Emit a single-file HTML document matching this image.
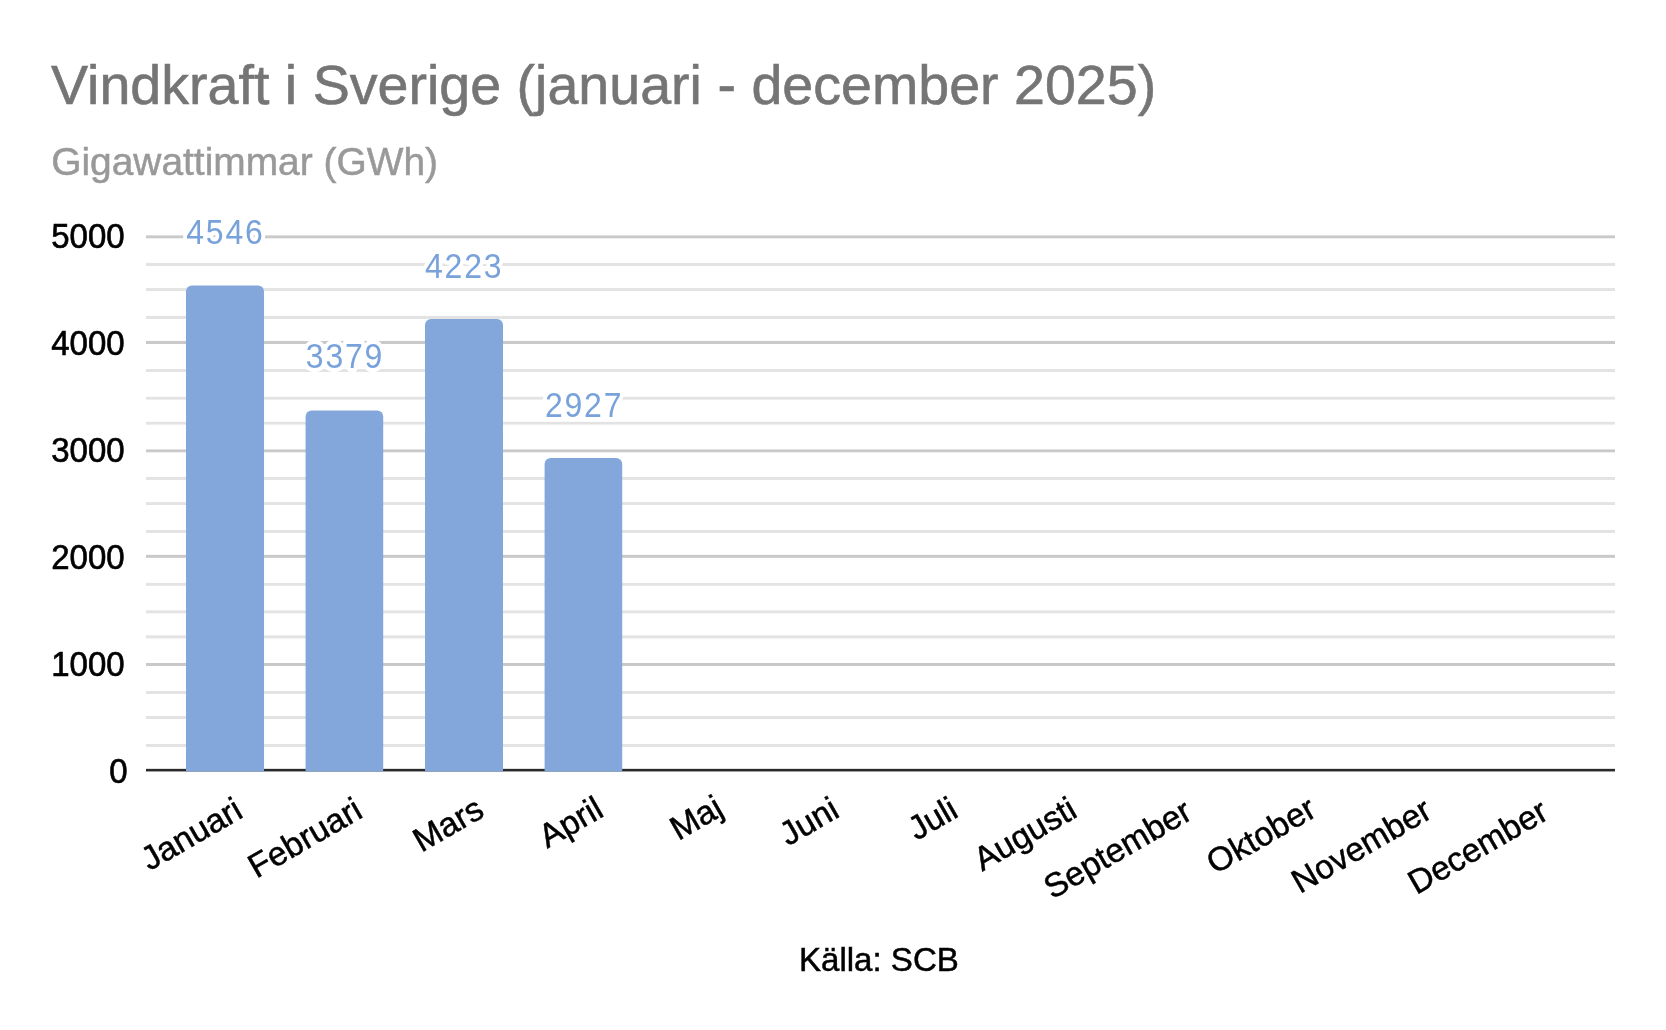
<!DOCTYPE html>
<html>
<head>
<meta charset="utf-8">
<title>Vindkraft i Sverige</title>
<style>
html,body{margin:0;padding:0;background:#fff;}
body{width:1666px;height:1030px;overflow:hidden;}
svg{display:block;font-family:"Liberation Sans",sans-serif;will-change:transform;}
text{font-family:"Liberation Sans",sans-serif;}
</style>
</head>
<body>
<svg width="1666" height="1030" viewBox="0 0 1666 1030">
<rect x="0" y="0" width="1666" height="1030" fill="#fff"/>
<text x="51" y="104" font-size="55.6" fill="#757575" stroke="#757575" stroke-width="0.6">Vindkraft i Sverige (januari - december 2025)</text>
<text x="51.2" y="175" font-size="38.9" fill="#999999" stroke="#999999" stroke-width="0.5">Gigawattimmar (GWh)</text>
<g fill="#e3e3e3">
<rect x="146" y="262.9" width="1469" height="3.10"/>
<rect x="146" y="288.1" width="1469" height="2.90"/>
<rect x="146" y="315.9" width="1469" height="3.10"/>
<rect x="146" y="369.1" width="1469" height="2.90"/>
<rect x="146" y="396.8" width="1469" height="2.80"/>
<rect x="146" y="421.8" width="1469" height="2.80"/>
<rect x="146" y="477.0" width="1469" height="2.90"/>
<rect x="146" y="502.1" width="1469" height="2.90"/>
<rect x="146" y="530.0" width="1469" height="2.90"/>
<rect x="146" y="582.9" width="1469" height="2.90"/>
<rect x="146" y="610.4" width="1469" height="2.90"/>
<rect x="146" y="635.4" width="1469" height="3.00"/>
<rect x="146" y="691.0" width="1469" height="2.90"/>
<rect x="146" y="716.0" width="1469" height="3.00"/>
<rect x="146" y="744.0" width="1469" height="2.90"/>
</g>
<g fill="#c9c9c9">
<rect x="146" y="235.4" width="1469" height="2.90"/>
<rect x="146" y="340.95" width="1469" height="3.05"/>
<rect x="146" y="449.45" width="1469" height="2.85"/>
<rect x="146" y="554.85" width="1469" height="3.00"/>
<rect x="146" y="663.0" width="1469" height="3.00"/>
</g>
<rect x="146" y="768.85" width="1469" height="2.6" fill="#2a2a2a"/>
<g fill="#84a7db">
<path d="M186 771.4V291.60a6 6 0 0 1 6 -6H258.00a6 6 0 0 1 6 6V771.4Z"/>
<path d="M305.6 771.4V416.50a6 6 0 0 1 6 -6H377.20a6 6 0 0 1 6 6V771.4Z"/>
<path d="M425 771.4V325.00a6 6 0 0 1 6 -6H497.00a6 6 0 0 1 6 6V771.4Z"/>
<path d="M544.6 771.4V464.00a6 6 0 0 1 6 -6H616.20a6 6 0 0 1 6 6V771.4Z"/>
</g>
<g font-size="32" text-anchor="middle" letter-spacing="1.8">
<g transform="translate(225.4,243.9) scale(1,1.11)"><text x="0" y="0" fill="#fff" stroke="#fff" stroke-width="7.5" stroke-linejoin="round">4546</text><text x="0" y="0" fill="#79a2db" stroke="none">4546</text></g>
<g transform="translate(345.0,368.4) scale(1,1.11)"><text x="0" y="0" fill="#fff" stroke="#fff" stroke-width="7.5" stroke-linejoin="round">3379</text><text x="0" y="0" fill="#79a2db" stroke="none">3379</text></g>
<g transform="translate(464.2,278.3) scale(1,1.11)"><text x="0" y="0" fill="#fff" stroke="#fff" stroke-width="7.5" stroke-linejoin="round">4223</text><text x="0" y="0" fill="#79a2db" stroke="none">4223</text></g>
<g transform="translate(584.1,416.8) scale(1,1.11)"><text x="0" y="0" fill="#fff" stroke="#fff" stroke-width="7.5" stroke-linejoin="round">2927</text><text x="0" y="0" fill="#79a2db" stroke="none">2927</text></g>
</g>
<g font-size="33" text-anchor="end" fill="#000" stroke="#000" stroke-width="0.6">
<text transform="translate(124.6,248.2) scale(1,1.07)">5000</text>
<text transform="translate(124.6,355.4) scale(1,1.07)">4000</text>
<text transform="translate(124.6,462.4) scale(1,1.07)">3000</text>
<text transform="translate(124.6,568.6) scale(1,1.07)">2000</text>
<text transform="translate(124.6,676.1) scale(1,1.07)">1000</text>
<text transform="translate(127.5,783.4) scale(1,1.07)">0</text>
</g>
<g font-size="33.5" text-anchor="end" fill="#000" stroke="#000" stroke-width="0.5">
<text transform="translate(244.7,816.4) rotate(-30)">Januari</text>
<text transform="translate(364.5,816.3) rotate(-30)">Februari</text>
<text transform="translate(485.9,815.5) rotate(-30)">Mars</text>
<text transform="translate(605.4,815.3) rotate(-30)">April</text>
<text transform="translate(725.2,814) rotate(-30)">Maj</text>
<text transform="translate(841.2,815.8) rotate(-30)">Juni</text>
<text transform="translate(960.0,815.8) rotate(-30)">Juli</text>
<text transform="translate(1079.0,815.8) rotate(-30)">Augusti</text>
<text transform="translate(1194.1,817.8) rotate(-30)">September</text>
<text transform="translate(1318.3,815.2) rotate(-30)">Oktober</text>
<text transform="translate(1433.9,816.7) rotate(-30)">November</text>
<text transform="translate(1550.3,817.8) rotate(-30)">December</text>
</g>
<text x="878.9" y="971" font-size="33.1" fill="#000" stroke="#000" stroke-width="0.5" text-anchor="middle">Källa: SCB</text>
</svg>
</body>
</html>
